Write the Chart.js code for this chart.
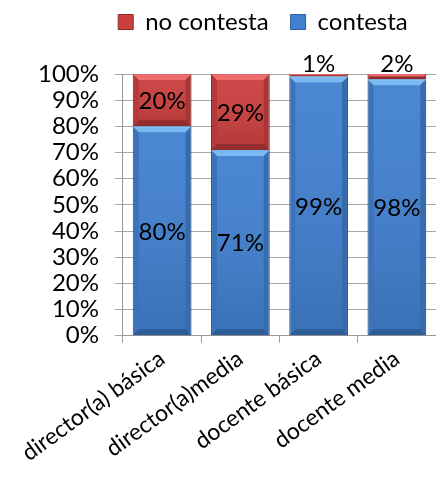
<!DOCTYPE html>
<html>
<head>
<meta charset="utf-8">
<script src="https://cdn.jsdelivr.net/npm/chart.js@4"></script>
<style>
  html, body { margin: 0; padding: 0; background: #fff; }
  #wrap { width: 436px; height: 481px; }
</style>
</head>
<body>
<div id="wrap"><canvas id="resp"></canvas></div>
<script>
const categories = ['director(a) básica', 'director(a)media', 'docente básica', 'docente media'];
const contesta = [80, 71, 99, 98];
const noContesta = [20, 29, 1, 2];
const yTicks = [0, 10, 20, 30, 40, 50, 60, 70, 80, 90, 100];

const FONT = 'Lato, Calibri, sans-serif';

// bevelled Excel-like bars plus the percentage labels
const bevelBars = {
  id: 'bevelBars',
  afterDatasetsDraw(chart) {
    const ctx = chart.ctx;
    chart.data.datasets.forEach((ds, di) => {
      const meta = chart.getDatasetMeta(di);
      meta.data.forEach((bar) => {
        const left = bar.x - bar.width / 2, right = bar.x + bar.width / 2;
        const top = Math.min(bar.y, bar.base), bottom = Math.max(bar.y, bar.base);
        const h = bottom - top;
        const b = Math.min(6, h / 2);
        ctx.save();
        // top highlight
        ctx.fillStyle = ds.bevelLight;
        ctx.beginPath();
        ctx.moveTo(left, top); ctx.lineTo(right, top);
        ctx.lineTo(right - b, top + b); ctx.lineTo(left + b, top + b);
        ctx.closePath(); ctx.fill();
        // sides
        ctx.fillStyle = 'rgba(0,0,0,0.10)';
        ctx.beginPath();
        ctx.moveTo(left, top); ctx.lineTo(left + b, top + b);
        ctx.lineTo(left + b, bottom - b); ctx.lineTo(left, bottom);
        ctx.closePath(); ctx.fill();
        ctx.fillStyle = 'rgba(0,0,0,0.16)';
        ctx.beginPath();
        ctx.moveTo(right, top); ctx.lineTo(right - b, top + b);
        ctx.lineTo(right - b, bottom - b); ctx.lineTo(right, bottom);
        ctx.closePath(); ctx.fill();
        // bottom shade
        ctx.fillStyle = 'rgba(0,0,0,0.28)';
        ctx.beginPath();
        ctx.moveTo(left, bottom); ctx.lineTo(right, bottom);
        ctx.lineTo(right - b, bottom - b); ctx.lineTo(left + b, bottom - b);
        ctx.closePath(); ctx.fill();
        // soft vertical shading
        const g = ctx.createLinearGradient(0, top, 0, bottom);
        g.addColorStop(0, 'rgba(255,255,255,0.05)');
        g.addColorStop(1, 'rgba(0,0,0,0.12)');
        ctx.fillStyle = g;
        ctx.fillRect(left + b, top + b, bar.width - 2 * b, h - 2 * b);
        ctx.restore();
      });
    });

    // value labels
    ctx.save();
    ctx.font = '24px ' + FONT;
    ctx.fillStyle = '#000';
    ctx.textAlign = 'center';
    chart.data.datasets.forEach((ds, di) => {
      const meta = chart.getDatasetMeta(di);
      meta.data.forEach((bar, i) => {
        const v = ds.data[i];
        const top = Math.min(bar.y, bar.base), bottom = Math.max(bar.y, bar.base);
        if (v < 5) {
          ctx.textBaseline = 'bottom';
          ctx.fillText(v + '%', bar.x, top + 2);
        } else {
          ctx.textBaseline = 'middle';
          ctx.fillText(v + '%', bar.x, (top + bottom) / 2 + 1);
        }
      });
    });
    ctx.restore();
  }
};

// extra room under the legend, and legend pushed over the plot
const legendGap = {
  id: 'legendGap',
  beforeInit(chart) {
    const fit = chart.legend.fit;
    chart.legend.fit = function () {
      fit.bind(chart.legend)();
      this.height += 18;
    };
  },
  afterLayout(chart) {
    chart.legend.left += 34;
    chart.legend.right += 34;
    chart.legend.top -= 12;
    chart.legend.bottom -= 12;
  }
};

new Chart(document.getElementById('resp'), {
  type: 'bar',
  data: {
    labels: categories,
    datasets: [
      {
        label: 'contesta',
        data: contesta,
        backgroundColor: '#4180d0',
        borderColor: '#2f5f9c',
        borderWidth: 1,
        bevelLight: 'rgba(140,205,255,0.75)'
      },
      {
        label: 'no contesta',
        data: noContesta,
        backgroundColor: '#cc3f3f',
        borderColor: '#8e2a2a',
        borderWidth: 1,
        bevelLight: 'rgba(255,130,130,0.7)'
      }
    ]
  },
  plugins: [bevelBars, legendGap],
  options: {
    responsive: true,
    maintainAspectRatio: false,
    animation: false,
    layout: { padding: { left: 22, right: 0, top: 0, bottom: 12 } },
    datasets: { bar: { categoryPercentage: 1, barPercentage: 0.75 } },
    plugins: {
      legend: {
        reverse: true,
        labels: {
          font: { family: FONT, size: 24 },
          color: '#000',
          boxWidth: 15,
          boxHeight: 15,
          padding: 22
        }
      },
      tooltip: { enabled: false }
    },
    scales: {
      x: {
        stacked: true,
        grid: { drawOnChartArea: false, color: '#999', tickLength: 7 },
        border: { color: '#999' },
        ticks: {
          color: '#000',
          font: { family: FONT, size: 23 },
          minRotation: 36,
          maxRotation: 36,
          padding: 2
        }
      },
      y: {
        stacked: true,
        min: 0,
        max: 100,
        afterBuildTicks(scale) {
          scale.ticks = yTicks.map(v => ({ value: v }));
        },
        grid: { color: '#a6a6a6', tickLength: 8 },
        border: { color: '#999' },
        ticks: {
          color: '#000',
          autoSkip: false,
          font: { family: FONT, size: 24 },
          padding: 16,
          callback: v => v + '%'
        }
      }
    }
  }
});
</script>
</body>
</html>
